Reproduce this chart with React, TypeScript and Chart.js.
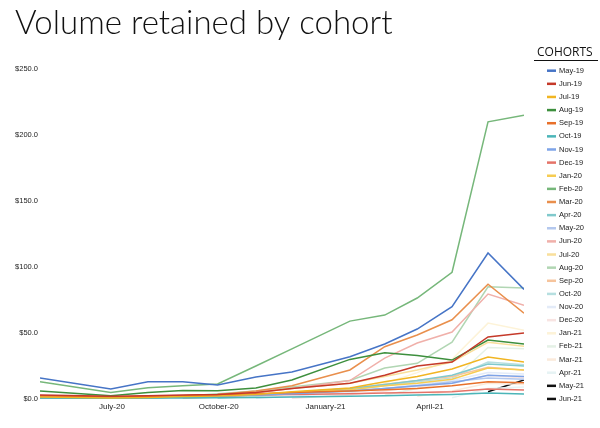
import React, { useEffect, useRef } from "react";
import { Chart, registerables } from "chart.js";

Chart.register(...registerables);

// observation dates of the data points
const dates = [
  "2020-04-30", "2020-06-30", "2020-08-01", "2020-08-31", "2020-09-30", "2020-11-02",
  "2020-12-03", "2021-01-22", "2021-02-21", "2021-03-21", "2021-04-20", "2021-05-21", "2021-06-21",
];
const tickDates = ["2020-07-01", "2020-10-01", "2021-01-01", "2021-04-01"];
const tickLabels = ["July-20", "October-20", "January-21", "April-21"];
const yTicks = [0, 50, 100, 150, 200, 250];

const cohorts = [
  "May-19", "Jun-19", "Jul-19", "Aug-19", "Sep-19", "Oct-19", "Nov-19", "Dec-19",
  "Jan-20", "Feb-20", "Mar-20", "Apr-20", "May-20", "Jun-20", "Jul-20", "Aug-20",
  "Sep-20", "Oct-20", "Nov-20", "Dec-20", "Jan-21", "Feb-21", "Mar-21", "Apr-21",
  "May-21", "Jun-21",
];
const colors = [
  "#4674c6", "#c53929", "#f1b522", "#3d8f3d", "#e8702a", "#4bb5b8", "#7ea4e8", "#e57368",
  "#f6cc52", "#76b77a", "#e98f4c", "#80c9cc", "#b4c8ee", "#f0b0aa", "#f9df9b", "#b1d6b3",
  "#f6c49c", "#b6dfe0", "#e3ebf8", "#f8e4e2", "#fdf3d8", "#e5f1e6", "#fbeadb", "#e6f3f4",
  "#111111", "#111111",
];

const N = null;
const may19 = [16, 7.6, 13, 13, 10.6, 16.7, 20.5, 32, 41.7, 53, 70, 110.6, 83];
const jun19 = [3, 2, 2.5, 3, 3.5, 5, 8, 12, 18, 25, 28, 47, 50];
const jul19 = [1.5, 0.8, 1.2, 1.8, 2.2, 3.5, 5.5, 8.3, 13, 17, 22.7, 31.8, 28];
const aug19 = [6, 2.5, 5, 6.5, 6.3, 8.3, 14.4, 30, 35, 33, 29.5, 44.7, 41.7];
const sep19 = [2.5, 1.5, 2, 2.5, 3, 4, 5, 6, 7, 8, 10, 13, 12.3];
const oct19 = [0.8, 0.6, 0.7, 0.8, 1, 1.2, 1.5, 2, 2.5, 3, 3.5, 4.5, 3.8];
const nov19 = [1, 0.8, 1, 1.5, 2, 3, 4, 6, 8, 10, 12, 18, 17];
const dec19 = [2.5, 1.5, 1.8, 2, 2.3, 3, 3.5, 4, 4.5, 5, 5.5, 7.6, 6.8];
const jan20 = [0.5, 0.5, 1, 1.5, 2, 3, 5, 7, 10, 12, 15, 23.5, 22];
const feb20 = [13, 5, 8.5, 10, 11.4, 25, 38, 59, 63.6, 76.5, 96, 210, 215];
const mar20 = [2, 1, 2, 2.5, 3.5, 6, 10, 22, 39.6, 48.5, 60, 87, 65];
const apr20 = [0.5, 0.5, 1, 1.5, 2, 3, 5, 8, 11, 14, 18, 26.5, 25];
const may20 = [0.3, 0.5, 1, 1.5, 2, 3, 4, 6, 8, 10, 13, 16, 15];
const jun20 = [N, 1, 2, 2.5, 3, 5, 8, 14, 31, 42.4, 50.7, 79.5, 71];
const jul20 = [N, 0.3, 1, 2, 3, 5, 8, 12, 17, 22, 28, 43, 40];
const aug20 = [N, N, 0.5, 2, 4, 6, 9, 14, 23.5, 27, 43, 85, 84];
const sep20 = [N, N, N, 0.5, 1.5, 3, 5, 8, 11, 14, 17, 24, 22];
const oct20 = [N, N, N, N, 0.5, 2, 4, 7, 10, 13, 16, 28, 26];
const nov20 = [N, N, N, N, N, 0.5, 2, 5, 8, 11, 14, 20, 19];
const dec20 = [N, N, N, N, N, N, 0.5, 3, 6, 9, 12, 18, 16];
const jan21 = [N, N, N, N, N, N, N, 5, 12, 20, 30, 57.5, 52];
const feb21 = [N, N, N, N, N, N, N, N, 3, 8, 14, 39, 38];
const mar21 = [N, N, N, N, N, N, N, N, N, 2, 6, 12, 11];
const apr21 = [N, N, N, N, N, N, N, N, N, N, 1, 8, 9];
const may21 = [N, N, N, N, N, N, N, N, N, N, N, 5.5, 14.4];
const jun21 = [N, N, N, N, N, N, N, N, N, N, N, N, 0.5];

const seriesValues = [
  may19, jun19, jul19, aug19, sep19, oct19, nov19, dec19, jan20, feb20, mar20, apr20, may20,
  jun20, jul20, aug20, sep20, oct20, nov20, dec20, jan21, feb21, mar21, apr21, may21, jun21,
];

const chartTitle = "Volume retained by cohort";
const legendTitle = "COHORTS";

const day = (s: string) => Date.parse(s + "T00:00:00Z") / 86400000;

const legendPlugin = {
  id: "cohortLegend",
  afterDraw(chart: any) {
    const ctx = chart.ctx;
    ctx.save();
    ctx.textBaseline = "middle";
    ctx.textAlign = "left";
    ctx.fillStyle = "#111";
    ctx.font = '400 12px "Open Sans"';
    ctx.fillText(legendTitle, 537, 53);
    ctx.beginPath();
    ctx.moveTo(534, 60.5);
    ctx.lineTo(598, 60.5);
    ctx.lineWidth = 1;
    ctx.strokeStyle = "#111";
    ctx.stroke();
    chart.data.datasets.forEach((ds: any, i: number) => {
      const y = 70.7 + i * 13.13;
      ctx.fillStyle = ds.borderColor;
      ctx.fillRect(547, y - 1.25, 9, 2.5);
      ctx.fillStyle = "#222";
      ctx.font = '7.5px "Liberation Sans"';
      ctx.fillText(ds.label, 559, y);
    });
    ctx.restore();
  },
};

export default function App() {
  const ref = useRef<HTMLCanvasElement | null>(null);
  useEffect(() => {
    document.body.style.margin = "0";
    if (!ref.current) return;
    const xs = dates.map(day);
    const chart = new Chart(ref.current, {
      type: "line",
      data: {
        datasets: cohorts.map((c, i) => ({
          label: c,
          data: xs.map((x, j) => ({ x, y: seriesValues[i][j] })),
          borderColor: colors[i],
          backgroundColor: colors[i],
          borderWidth: 1.5,
          pointRadius: 0,
          tension: 0,
          fill: false,
        })),
      },
      options: {
        animation: false,
        responsive: true,
        maintainAspectRatio: false,
        layout: { padding: { left: 15, right: 76, top: 0, bottom: 0 } },
        plugins: {
          legend: { display: false },
          tooltip: { enabled: false },
          title: {
            display: true,
            text: chartTitle,
            align: "start",
            color: "#111",
            font: { family: "Lato", size: 33, weight: "300", lineHeight: 1.2 },
            padding: { top: 4, bottom: 25.4 },
          },
        },
        scales: {
          x: {
            type: "linear",
            min: xs[0],
            max: xs[xs.length - 1],
            grid: { display: false, drawTicks: false },
            border: { display: false },
            afterBuildTicks: (scale: any) => {
              scale.ticks = tickDates.map((d) => ({ value: day(d) }));
            },
            afterFit: (scale: any) => {
              scale.height = 29;
            },
            ticks: {
              autoSkip: false,
              maxRotation: 0,
              padding: 3,
              color: "#222",
              font: { family: "Liberation Sans", size: 8 },
              callback: (_v: any, i: number) => tickLabels[i],
            },
          },
          y: {
            min: yTicks[0],
            max: yTicks[yTicks.length - 1],
            grid: { display: false, drawTicks: false },
            border: { display: false },
            afterBuildTicks: (scale: any) => {
              scale.ticks = yTicks.map((v) => ({ value: v }));
            },
            afterFit: (scale: any) => {
              scale.width = 25;
            },
            ticks: {
              padding: 2,
              color: "#222",
              font: { family: "Liberation Sans", size: 7.5 },
              callback: (v: any) => "$" + Number(v).toFixed(1),
            },
          },
        },
      },
      plugins: [legendPlugin],
    });
    return () => chart.destroy();
  }, []);
  return (
    <div style={{ width: 600, height: 428, position: "relative" }}>
      <canvas ref={ref} />
    </div>
  );
}
